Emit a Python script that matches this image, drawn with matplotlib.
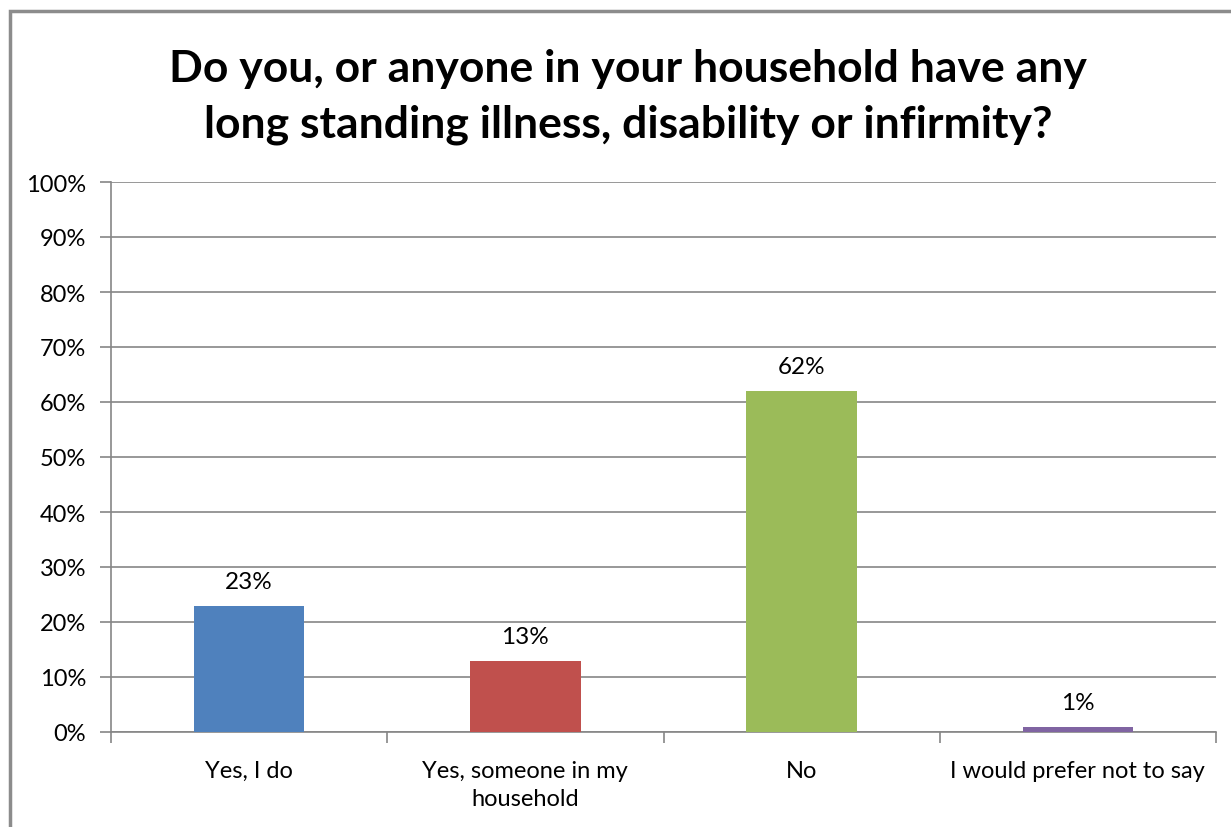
import numpy as np
import matplotlib.pyplot as plt
from matplotlib.patches import Rectangle
from matplotlib.ticker import FixedLocator, NullFormatter

plt.rcParams.update({
    "font.family": ["Lato", "DejaVu Sans"],
    "font.size": 17,
})

categories = ["Yes, I do", "Yes, someone in my\nhousehold", "No", "I would prefer not to say"]
values = [23, 13, 62, 1]
colors = ["#4F81BD", "#C0504D", "#9BBB59", "#8064A2"]
yticks = np.arange(0, 101, 10)

GRID = "#868686"

fig = plt.figure(figsize=(12.31, 8.28), dpi=100)

# chart border (Excel-style frame, runs off the right/bottom edge)
fig.patches.append(Rectangle((10 / 1231, -0.05), 1.1, 1 - 12 / 828 + 0.05,
                             transform=fig.transFigure, fill=False,
                             edgecolor="#8c8c8c", linewidth=2.5))

ax = fig.add_axes([111 / 1231, 95 / 828, 1105 / 1231, 550 / 828])
x = np.arange(len(categories))
ax.bar(x, values, width=0.4, color=colors, zorder=3)

for xi, v in zip(x, values):
    ax.annotate(f"{v}%", (xi, v), xytext=(0, 10), textcoords="offset points",
                ha="center", va="bottom", fontsize=17.5)

ax.set_xlim(-0.5, len(categories) - 0.5)
ax.set_ylim(0, 100)
ax.set_yticks(yticks)
ax.set_yticklabels([f"{t}%" for t in yticks], fontsize=17)
ax.grid(axis="y", color=GRID, linewidth=1.2, zorder=0)

# category labels centred, tick marks on the category boundaries
ax.set_xticks(x)
ax.set_xticklabels(categories, fontsize=17, linespacing=1.4)
ax.tick_params(axis="x", which="major", length=0, pad=20)
ax.xaxis.set_minor_locator(FixedLocator(np.arange(-0.5, len(categories), 1)))
ax.xaxis.set_minor_formatter(NullFormatter())
ax.tick_params(axis="x", which="minor", length=8, width=1.2, color=GRID)
ax.tick_params(axis="y", length=8, width=1.2, color=GRID, pad=10)

for side in ["top", "right"]:
    ax.spines[side].set_visible(False)
ax.spines["left"].set_color(GRID)
ax.spines["bottom"].set_color(GRID)
ax.spines["left"].set_linewidth(1.2)
ax.spines["bottom"].set_linewidth(1.2)

fig.text(628 / 1231, 1 - 97 / 828,
         "Do you, or anyone in your household have any\nlong standing illness, disability or infirmity?",
         ha="center", va="center", fontsize=32, fontweight="bold", linespacing=1.45)

fig.savefig("out.png", dpi=100)
